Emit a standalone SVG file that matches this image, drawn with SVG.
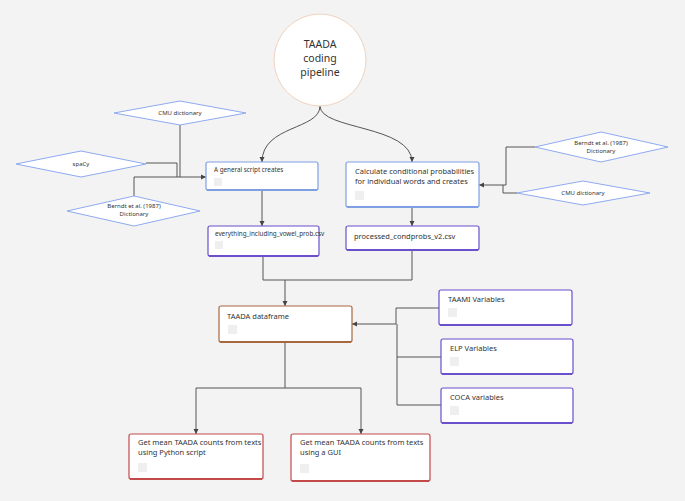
<svg xmlns="http://www.w3.org/2000/svg" width="685" height="501" viewBox="0 0 685 501">
<style>
text{font-family:"Noto Sans","Liberation Sans",sans-serif;fill:#333}
.d{fill:#fff;stroke:#8eaaf0;stroke-width:1}
.dt{font-size:6px;text-anchor:middle}
.b{fill:#fff;stroke-width:1.2}
.bt{font-size:7.5px}
.sm{font-size:6.3px}
.sq{fill:#efefef}
.c{fill:none;stroke:#555;stroke-width:1}
.blue{stroke:#7e9fe3}.pur{stroke:#6b4fcc}.brn{stroke:#a8683f}.red{stroke:#c44a4a}
</style>
<defs><marker id="a" markerWidth="6" markerHeight="6" refX="5" refY="3" orient="auto" markerUnits="userSpaceOnUse"><path d="M0,0.5L5,3L0,5.5z" fill="#444"/></marker></defs>
<rect width="685" height="501" fill="#f3f3f3"/>
<g id="connectors">
<path class="c" d="M320,106C320,130 262,125 262,162" marker-end="url(#a)"/>
<path class="c" d="M320,106C320,130 412,125 412,162" marker-end="url(#a)"/>
<path class="c" d="M180,125V177"/>
<path class="c" d="M146,163H177V177"/>
<path class="c" d="M134,196V177H206" marker-end="url(#a)"/>
<path class="c" d="M262,190V226" marker-end="url(#a)"/>
<path class="c" d="M535,147H506V185H479" marker-end="url(#a)"/>
<path class="c" d="M517,193H503V185"/>
<path class="c" d="M412,207V226" marker-end="url(#a)"/>
<path class="c" d="M263,256V280H285"/>
<path class="c" d="M412,250V280H285V306" marker-end="url(#a)"/>
<path class="c" d="M439,308H396V324H352" marker-end="url(#a)"/>
<path class="c" d="M441,357H397V324"/>
<path class="c" d="M441,405H397V357"/>
<path class="c" d="M285,342V388H196V434" marker-end="url(#a)"/>
<path class="c" d="M285,388H361V434" marker-end="url(#a)"/>
</g>
<g id="n-title"><circle cx="320" cy="60" r="46" fill="#fff" stroke="#f0d2c0"/>
<text x="320" y="48" text-anchor="middle" font-size="10.5">TAADA</text><text x="320" y="62" text-anchor="middle" font-size="10.5">coding</text><text x="320" y="76" text-anchor="middle" font-size="10.5">pipeline</text></g>
<g id="n-cmu1"><polygon class="d" points="114,113 180,101 246,113 180,125"/><text class="dt" x="180" y="115">CMU dictionary</text></g>
<g id="n-spacy"><polygon class="d" points="16,164 81,151 146,164 81,177"/><text class="dt" x="81" y="166">spaCy</text></g>
<g id="n-berndt1"><polygon class="d" points="67,211 134,196 200,211 134,226"/><text class="dt" x="134" y="208">Berndt et al. (1987)</text><text class="dt" x="134" y="216">Dictionary</text></g>
<g id="n-general"><rect class="b blue" x="206" y="162" width="112" height="28" rx="2"/><path class="blue" d="M207,190H317" stroke-width="2"/><text class="sm" x="214" y="172">A general script creates</text><rect class="sq" x="214" y="178" width="8" height="8"/></g>
<g id="n-everything"><rect class="b pur" x="208" y="226" width="111" height="30" rx="2"/><path class="pur" d="M209,256H318" stroke-width="2"/><text class="sm" x="215" y="236" font-size="6.2">everything_including_vowel_prob.csv</text><rect class="sq" x="215" y="241" width="8" height="8"/></g>
<g id="n-calc"><rect class="b blue" x="346" y="162" width="133" height="45" rx="2"/><path class="blue" d="M347,207H478" stroke-width="2"/><text class="bt" x="355" y="174">Calculate conditional probabilities</text><text class="bt" x="355" y="184">for individual words and creates</text><rect class="sq" x="355" y="191" width="9" height="9"/></g>
<g id="n-processed"><rect class="b pur" x="346" y="226" width="133" height="24" rx="2"/><path class="pur" d="M347,250H478" stroke-width="2"/><text class="bt" x="354" y="239">processed_condprobs_v2.csv</text></g>
<g id="n-berndt2"><polygon class="d" points="535,147 601,132 668,147 601,162"/><text class="dt" x="601" y="145">Berndt et al. (1987)</text><text class="dt" x="601" y="153">Dictionary</text></g>
<g id="n-cmu2"><polygon class="d" points="517,193 583,181 650,193 583,205"/><text class="dt" x="583" y="195">CMU dictionary</text></g>
<g id="n-df"><rect class="b brn" x="219" y="306" width="133" height="36" rx="2"/><path class="brn" d="M220,342H351" stroke-width="2"/><text class="bt" x="227" y="319">TAADA dataframe</text><rect class="sq" x="228" y="325" width="9" height="9"/></g>
<g id="n-taami"><rect class="b pur" x="439" y="290" width="133" height="35" rx="2"/><path class="pur" d="M440,325H571" stroke-width="2"/><text class="bt" x="448" y="302">TAAMI Variables</text><rect class="sq" x="448" y="308" width="9" height="9"/></g>
<g id="n-elp"><rect class="b pur" x="441" y="339" width="132" height="35" rx="2"/><path class="pur" d="M442,374H572" stroke-width="2"/><text class="bt" x="450" y="351">ELP Variables</text><rect class="sq" x="450" y="357" width="9" height="9"/></g>
<g id="n-coca"><rect class="b pur" x="441" y="388" width="132" height="35" rx="2"/><path class="pur" d="M442,423H572" stroke-width="2"/><text class="bt" x="450" y="400">COCA variables</text><rect class="sq" x="450" y="406" width="9" height="9"/></g>
<g id="n-python"><rect class="b red" x="129" y="434" width="134" height="45" rx="2"/><path class="red" d="M130,479H262" stroke-width="2"/><text class="bt" x="138" y="445">Get mean TAADA counts from texts</text><text class="bt" x="138" y="455">using Python script</text><rect class="sq" x="138" y="463" width="9" height="9"/></g>
<g id="n-gui"><rect class="b red" x="291" y="434" width="139" height="47" rx="2"/><path class="red" d="M292,481H429" stroke-width="2"/><text class="bt" x="300" y="445">Get mean TAADA counts from texts</text><text class="bt" x="300" y="455">using a GUI</text><rect class="sq" x="300" y="464" width="9" height="9"/></g>
</svg>
